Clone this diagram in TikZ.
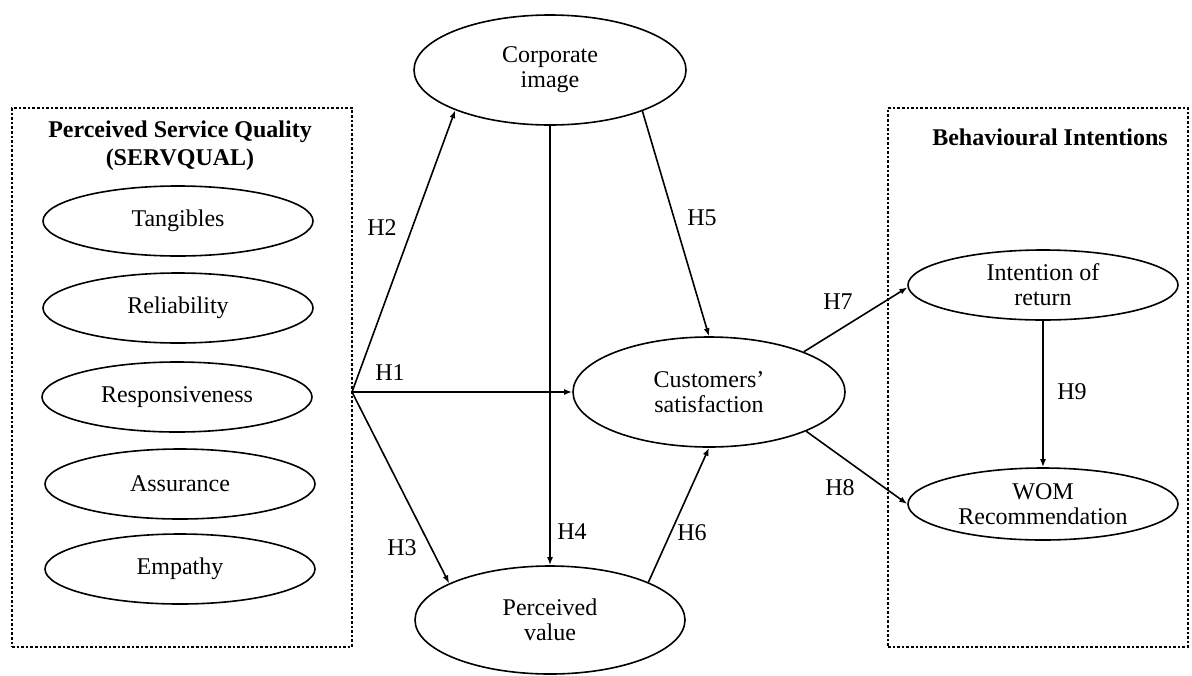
\documentclass[tikz,border=0pt]{standalone}
\usepackage{fontspec}
\setmainfont{Liberation Serif}
\usetikzlibrary{shapes.geometric,arrows.meta}
\begin{document}
\begin{tikzpicture}[x=0.5pt,y=-0.5pt,
  oval/.style={ellipse,draw,line width=0.8pt,inner sep=0pt,align=center,font=\fontsize{12}{12.5}\selectfont},
  dim/.style={oval,minimum width=135pt,minimum height=35pt},
  big/.style={oval,minimum width=136pt,minimum height=55pt},
  grp/.style={draw,densely dotted,line width=1.3pt,inner sep=0pt},
  arr/.style={line width=0.8pt,-{Latex[length=4pt,width=3pt]}},
  hl/.style={font=\fontsize{12}{12}\selectfont,inner sep=1pt},
  ttl/.style={font=\bfseries\fontsize{12}{14}\selectfont,align=center,inner sep=0pt}]
\useasboundingbox (0,0) rectangle (1192,675);
% group boxes
\node[grp,minimum width=170pt,minimum height=269.5pt] (lbox) at (182,377.5) {};
\node[grp,minimum width=150pt,minimum height=269.5pt] (rbox) at (1038,377.5) {};
\node[ttl] (lttl) at (180,146) {Perceived Service Quality\\(SERVQUAL)};
\node[ttl] (rttl) at (1050,137) {Behavioural Intentions};
% dimensions
\node[dim] (tan) at (178,221) {Tangibles};
\node[dim] (rel) at (178,308) {Reliability};
\node[dim] (res) at (177,397) {Responsiveness};
\node[dim] (ass) at (180,484) {Assurance};
\node[dim] (emp) at (180,569) {Empathy};
% constructs
\node[big] (ci) at (550,70) {Corporate\\image};
\node[big] (cs) at (709,392) {Customers'\\satisfaction};
\node[big,minimum width=135pt,minimum height=54pt] (pv) at (550,620) {Perceived\\value};
\node[dim] (ir) at (1043,285) {Intention of\\return};
\node[dim,minimum height=36pt] (wom) at (1043,504) {WOM\\Recommendation};
\coordinate (hub) at (352,392);
% connectors
\draw[arr] (hub) -- (ci.203);
\draw[arr] (hub) -- (cs.west);
\draw[arr] (hub) -- (pv.160);
\draw[arr] (ci.south) -- (pv.north);
\draw[arr] (ci.336) -- (cs.north);
\draw[arr] (pv.21) -- (cs.south);
\draw[arr] (cs.23) -- (ir.181);
\draw[arr] (cs.338) -- (wom.west);
\draw[arr] (ir.south) -- (wom.north);
% labels
\node[hl] (h2) at (382,228) {H2};
\node[hl] (h5) at (702,218) {H5};
\node[hl] (h1) at (390,373) {H1};
\node[hl] (h4) at (572,532) {H4};
\node[hl] (h3) at (402,548) {H3};
\node[hl] (h6) at (692,533) {H6};
\node[hl] (h7) at (838,302) {H7};
\node[hl] (h8) at (840,488) {H8};
\node[hl] (h9) at (1072,392) {H9};
\end{tikzpicture}
\end{document}
